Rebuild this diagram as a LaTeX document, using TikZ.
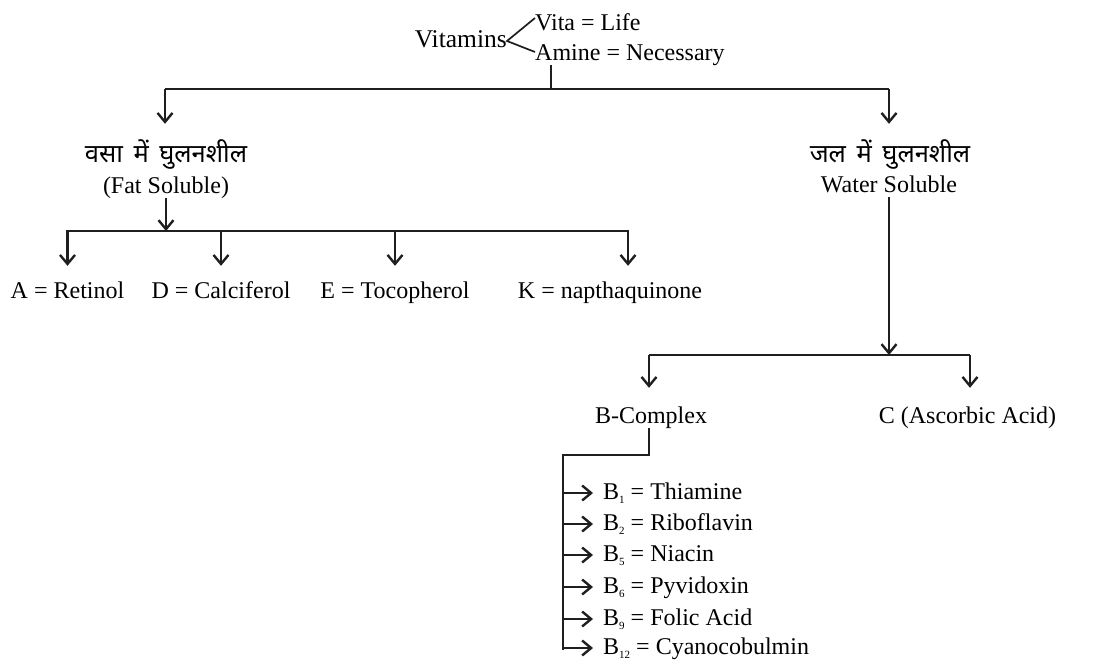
\documentclass[tikz,border=0pt]{standalone}
\usepackage{fontspec}
\setmainfont{Liberation Serif}
\newfontfamily\hindi[Script=Devanagari,WordSpace=1.6]{Noto Sans}
\usetikzlibrary{arrows.meta}
\newcommand\bsb[1]{\raisebox{-4pt}{\fontsize{11}{11}\selectfont #1}}
\tikzset{
  lab/.style={inner sep=0pt, text height=17pt, text depth=5pt, font=\fontsize{24}{28}\selectfont},
  hin/.style={inner sep=0pt, text height=38pt, text depth=5pt, anchor=base, font=\hindi\fontsize{25.5}{30}\selectfont},
  itm/.style={lab, text height=32pt, anchor=base},
  bcx/.style={lab, text height=35pt, anchor=base},
  bitem/.style={lab, text height=16pt, text depth=4pt, inner xsep=10pt, anchor=base west},
  ln/.style={line width=2.4pt, black!88},
  arr/.style={ln, -{Straight Barb[length=9pt,width=15pt]}},
  thinln/.style={line width=1.7pt, black!88},
}
\begin{document}
\begin{tikzpicture}[x=1pt,y=-1pt]
\useasboundingbox (0,0) rectangle (1115,664);
% top
\node[lab, anchor=base east, font=\fontsize{25.5}{29}\selectfont] (vit) at (507,47) {Vitamins};
\node[lab, anchor=base west] (vita) at (535,30) {Vita = Life};
\node[lab, anchor=base west] (amine) at (535,60) {Amine = Necessary};
\draw[thinln] ([yshift=6pt]vita.west) -- (vit.east) -- ([yshift=2pt]amine.west);
\coordinate (top) at (551,89);
\coordinate (topL) at (165,89);
\coordinate (topR) at (889,89);
\draw[ln] (top |- amine.south) -- (top);
\draw[ln] (topL) -- (topR);
% fat / water
\node[hin] (fat1) at (166,162) {वसा में घुलनशील};
\node[lab, anchor=base] (fat2) at (166,193) {(Fat Soluble)};
\node[hin] (wat1) at (890,162) {जल में घुलनशील};
\node[lab, anchor=base] (wat2) at (889,192) {Water Soluble};
\draw[arr] (topL) -- (topL |- fat1.north);
\draw[arr] (topR) -- (topR |- wat1.north);
% fat soluble items
\coordinate (fatL) at (66,231);
\coordinate (fatR) at (629,231);
\coordinate (kx) at (628,231);
\draw[ln] (fatL) -- (fatR);
\draw[arr] (fat2.south) -- (fat2.south |- fatL);
\node[itm] (va) at (67.5,298) {A = Retinol};
\node[itm] (vd) at (221,298) {D = Calciferol};
\node[itm] (ve) at (395,298) {E = Tocopherol};
\node[itm] (vk) at (610,298) {K = napthaquinone};
\draw[arr] (va.north |- fatL) -- (va.north);
\draw[arr] (vd.north |- fatL) -- (vd.north);
\draw[arr] (ve.north |- fatL) -- (ve.north);
\draw[arr] (kx) -- (kx |- vk.north);
% water soluble
\coordinate (wj) at (889,355);
\coordinate (wL) at (649,355);
\coordinate (wR) at (970,355);
\draw[arr] (wat2.south) -- (wat2.south |- wj);
\draw[ln] (wL) -- (wR);
\node[bcx] (bc) at (651,423) {B-Complex};
\node[bcx] (cc) at (967.5,423) {C (Ascorbic Acid)};
\draw[arr] (wL) -- (wL |- bc.north);
\draw[arr] (wR) -- (wR |- cc.north);
% B list
\coordinate (bk) at (649,455);
\coordinate (bl) at (563,455);
\coordinate (blEnd) at (563,650);
\draw[ln] (wL |- bc.south) -- (bk) -- (bl) -- (blEnd);
\node[bitem] (b1) at (593,499) {B\bsb{1} = Thiamine};
\node[bitem] (b2) at (593,530) {B\bsb{2} = Riboflavin};
\node[bitem] (b5) at (593,561) {B\bsb{5} = Niacin};
\node[bitem] (b6) at (593,593) {B\bsb{6} = Pyvidoxin};
\node[bitem] (b9) at (593,625) {B\bsb{9} = Folic Acid};
\node[bitem] (b12) at (593,654) {B\bsb{12} = Cyanocobulmin};
\foreach \n in {b1,b2,b5,b6,b9,b12}
  \draw[arr] (\n.west -| bl) -- (\n.west);
\end{tikzpicture}
\end{document}
